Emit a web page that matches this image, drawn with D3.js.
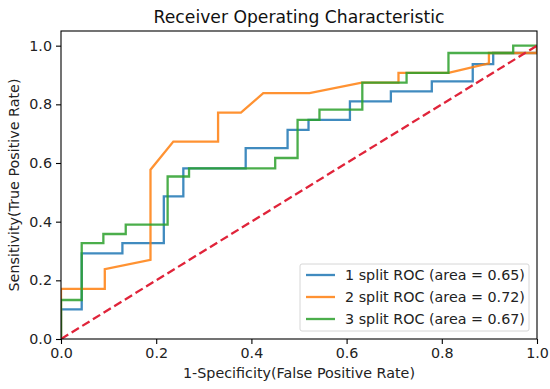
<!DOCTYPE html>
<html>
<head>
<meta charset="utf-8">
<script src="https://cdn.jsdelivr.net/npm/d3@7/dist/d3.min.js"></script>
<style>
  html, body { margin: 0; padding: 0; background: #fff; }
  svg { display: block; font-family: "DejaVu Sans", sans-serif; }
</style>
</head>
<body>
<svg id="chart" width="550" height="389"></svg>
<script>
// ---- data ----
const seriesNames = ["1 split ROC (area = 0.65)", "2 split ROC (area = 0.72)", "3 split ROC (area = 0.67)"];

const fpr1 = [0, 0, 0.0435, 0.0435, 0.129, 0.129, 0.216, 0.216, 0.257, 0.257, 0.388, 0.388, 0.476, 0.476, 0.52, 0.52, 0.607, 0.607, 0.693, 0.693, 0.779, 0.779, 0.865, 0.865, 0.908, 0.908, 1.0, 1.0];
const tpr1 = [0, 0.101, 0.101, 0.292, 0.292, 0.327, 0.327, 0.486, 0.486, 0.582, 0.582, 0.651, 0.651, 0.713, 0.713, 0.747, 0.747, 0.81, 0.81, 0.844, 0.844, 0.878, 0.878, 0.937, 0.937, 0.975, 0.975, 1.0];

const fpr2 = [0, 0, 0.092, 0.092, 0.188, 0.188, 0.236, 0.33, 0.33, 0.378, 0.425, 0.522, 0.632, 0.709, 0.709, 0.814, 0.899, 0.899, 1.0, 1.0];
const tpr2 = [0, 0.171, 0.171, 0.238, 0.27, 0.577, 0.673, 0.673, 0.772, 0.772, 0.838, 0.838, 0.874, 0.874, 0.907, 0.907, 0.94, 0.975, 0.975, 1.0];

const fpr3 = [0, 0, 0.0435, 0.0435, 0.089, 0.089, 0.136, 0.136, 0.224, 0.224, 0.269, 0.269, 0.45, 0.45, 0.497, 0.497, 0.543, 0.543, 0.633, 0.633, 0.726, 0.726, 0.814, 0.814, 0.95, 0.95, 1.0];
const tpr3 = [0, 0.133, 0.133, 0.327, 0.327, 0.358, 0.358, 0.39, 0.39, 0.554, 0.554, 0.582, 0.582, 0.617, 0.617, 0.747, 0.747, 0.782, 0.782, 0.874, 0.874, 0.907, 0.907, 0.975, 0.975, 1.0, 1.0];

const chanceX = [0, 1];
const chanceY = [0, 1];

const xTicks = [0, 0.2, 0.4, 0.6, 0.8, 1.0];
const yTicks = [0, 0.2, 0.4, 0.6, 0.8, 1.0];

const titleText = "Receiver Operating Characteristic";
const xLabel = "1-Specificity(False Positive Rate)";
const yLabel = "Sensitivity(True Positive Rate)";

// ---- layout ----
const colors = ["#1f77b4", "#ff7f0e", "#2ca02c"];
const margin = { left: 61, right: 13, top: 31, bottom: 50 };
const W = 550, H = 389;
const pw = W - margin.left - margin.right;
const ph = H - margin.top - margin.bottom;
const fs = "14.3px";

const svg = d3.select("#chart");
const g = svg.append("g").attr("transform", `translate(${margin.left},${margin.top})`);

const x = d3.scaleLinear().domain([0, 1]).range([0, pw]);
const y = d3.scaleLinear().domain([0, 1.05]).range([ph, 0]);

const series = [
  { name: seriesNames[0], xs: fpr1, ys: tpr1, color: colors[0] },
  { name: seriesNames[1], xs: fpr2, ys: tpr2, color: colors[1] },
  { name: seriesNames[2], xs: fpr3, ys: tpr3, color: colors[2] }
];

const line = d3.line().x(d => x(d[0])).y(d => y(d[1]));

g.append("defs").append("clipPath").attr("id", "clip")
  .append("rect").attr("x", 0).attr("y", 0).attr("width", pw).attr("height", ph);

const plot = g.append("g").attr("clip-path", "url(#clip)");

series.forEach(s => {
  plot.append("path")
    .datum(d3.zip(s.xs, s.ys))
    .attr("d", line)
    .attr("fill", "none")
    .attr("stroke", s.color)
    .attr("stroke-width", 2.3)
    .attr("stroke-opacity", 0.85)
    .attr("stroke-linejoin", "miter");
});

plot.append("path")
  .datum(d3.zip(chanceX, chanceY))
  .attr("d", line)
  .attr("fill", "none")
  .attr("stroke", "#e0243a")
  .attr("stroke-width", 2.3)
  .attr("stroke-dasharray", "8.5,4");

// axes
const xAxis = d3.axisBottom(x).tickValues(xTicks).tickFormat(d3.format(".1f")).tickSizeOuter(0).tickSize(5).tickPadding(4);
const yAxis = d3.axisLeft(y).tickValues(yTicks).tickFormat(d3.format(".1f")).tickSizeOuter(0).tickSize(5).tickPadding(4);

const gx = g.append("g").attr("transform", `translate(0,${ph})`).call(xAxis);
const gy = g.append("g").call(yAxis);
[gx, gy].forEach(a => {
  a.select(".domain").remove();
  a.selectAll(".tick line").attr("stroke", "#000").attr("stroke-width", 1.1);
  a.selectAll(".tick text").attr("fill", "#222").style("font-size", fs).style("font-family", "DejaVu Sans");
});

// frame
g.append("rect").attr("x", 0).attr("y", 0).attr("width", pw).attr("height", ph)
  .attr("fill", "none").attr("stroke", "#000").attr("stroke-width", 1.1);

// title and labels
svg.append("text").attr("x", margin.left + pw / 2).attr("y", 23)
  .attr("text-anchor", "middle").style("font-size", "17.2px").attr("fill", "#111").text(titleText);
svg.append("text").attr("x", margin.left + pw / 2).attr("y", 378)
  .attr("text-anchor", "middle").style("font-size", fs).attr("fill", "#222").text(xLabel);
svg.append("text").attr("transform", `translate(19,${margin.top + y(0.525)}) rotate(-90)`)
  .attr("text-anchor", "middle").style("font-size", fs).attr("fill", "#222").text(yLabel);

// legend
const lg = g.append("g").attr("transform", `translate(${pw - 237},${ph - 75})`);
lg.append("rect").attr("x", 0).attr("y", 0).attr("width", 229).attr("height", 67).attr("rx", 2)
  .attr("fill", "#fff").attr("fill-opacity", 0.8).attr("stroke", "#d6d6d6").attr("stroke-width", 1);
series.forEach((s, i) => {
  const yy = 11 + i * 22;
  lg.append("line").attr("x1", 6).attr("x2", 35).attr("y1", yy).attr("y2", yy)
    .attr("stroke", s.color).attr("stroke-width", 2.3).attr("stroke-opacity", 0.85);
  lg.append("text").attr("x", 45).attr("y", yy).attr("dy", "0.35em")
    .style("font-size", fs).attr("fill", "#222").text(s.name);
});
</script>
</body>
</html>
